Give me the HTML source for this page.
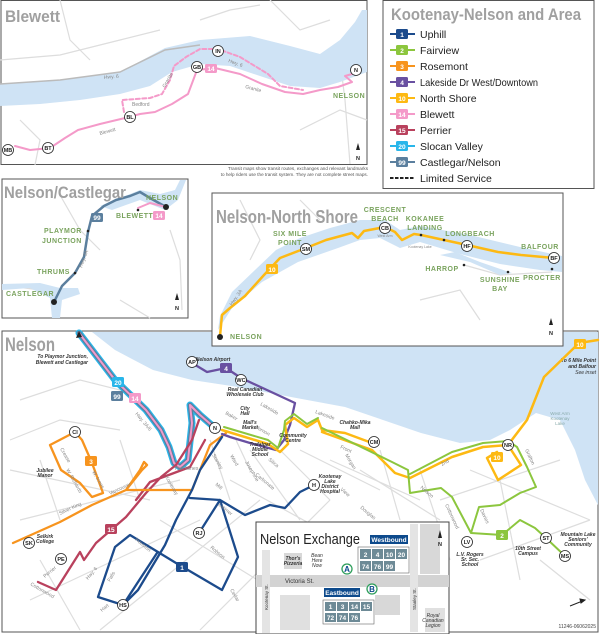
<!DOCTYPE html>
<html><head><meta charset="utf-8"><style>
html,body{margin:0;padding:0;background:#fff}
svg{display:block}
text{font-family:"Liberation Sans",sans-serif}
.t{fill:#a0a0a0;font-weight:bold}
.g{fill:#7aa35e;font-weight:bold;font-size:7px;letter-spacing:.5px}
.s{fill:#888;font-size:5px}
.i{font-style:italic;font-size:5px;fill:#333}
.st{fill:#fff;stroke:#222;stroke-width:.8}
.sl{font-size:5.5px;font-weight:bold;fill:#222;text-anchor:middle}
.bt{font-size:6.5px;fill:#fff;text-anchor:middle;font-weight:bold}
.r{fill:none;stroke-linejoin:round;stroke-linecap:round}
.str{fill:none;stroke:#ddd;stroke-width:1.2}
</style></head><body>
<svg width="600" height="634" viewBox="0 0 600 634">
<!-- ============ BLEWETT ============ -->
<rect x="1" y="0.5" width="366" height="164" fill="#fff" stroke="#555"/>
<g class="str"><path d="M0,60 L60,55 120,40 160,30"/><path d="M200,20 L230,10 260,5"/><path d="M270,0 L300,30 330,20"/><path d="M20,120 L40,140 35,165"/><path d="M300,130 L340,110 367,120"/><path d="M60,0 L70,40 90,60"/><path d="M340,60 L345,100 350,164"/></g>
<path d="M0,84 L60,80 120,72 165,48 200,40 250,36 290,46 320,54 340,40 355,22 362,10 367,10 367,72 340,82 320,88 290,86 260,76 230,66 200,64 172,72 150,86 120,94 80,100 40,104 0,106Z" fill="#cfe3f5"/>
<path d="M0,84 L60,80 120,72 165,50 200,45" fill="none" stroke="#bbb" stroke-width="1.5"/>
<path class="r" d="M15,146 L30,150 50,148 65,138 78,130 100,124 125,118 140,114 155,112 172,104 188,94 194,78 197,70 215,68 240,74 262,84 285,92 303,94 320,90 338,87 352,82 345,76 352,74" stroke="#f49ac9" stroke-width="2"/>
<path class="r" d="M124,112 L122,100 150,98 162,94 170,80 174,66 186,57 200,49 218,49 240,57 268,74 280,86 303,90" stroke="#f49ac9" stroke-width="2" stroke-dasharray="4,2.5"/>
<text x="5" y="22" class="t" font-size="17" textLength="55" lengthAdjust="spacingAndGlyphs">Blewett</text>
<text x="104" y="79" class="s" transform="rotate(-5 104 79)">Hwy. 6</text>
<text x="228" y="62" class="s" transform="rotate(20 228 62)">Hwy. 6</text>
<text x="245" y="88" class="s" transform="rotate(15 245 88)">Granite</text>
<text x="165" y="88" class="s" transform="rotate(-60 165 88)">Granite</text>
<text x="132" y="106" class="s">Bedford</text>
<text x="100" y="135" class="s" transform="rotate(-15 100 135)">Blewett</text>
<text x="333" y="98" class="g">NELSON</text>
<g><circle cx="8" cy="150" r="5.5" class="st"/><text x="8" y="152" class="sl">MB</text>
<circle cx="48" cy="148" r="5.5" class="st"/><text x="48" y="150" class="sl">BT</text>
<circle cx="130" cy="117" r="5.5" class="st"/><text x="130" y="119" class="sl">BL</text>
<circle cx="197" cy="67" r="5.5" class="st"/><text x="197" y="69" class="sl">GB</text>
<circle cx="218" cy="51" r="5.5" class="st"/><text x="218" y="53" class="sl">IN</text>
<circle cx="356" cy="70" r="5.5" class="st"/><text x="356" y="72" class="sl">N</text></g>
<rect x="205" y="64" width="12" height="9" rx="1.5" fill="#f49ac9"/><text x="211" y="71" class="bt">14</text>
<path d="M356,150 l2,-7 2,7z" fill="#222"/><text x="358" y="160" class="sl">N</text>
<text x="368" y="170" font-size="4.6" fill="#555" text-anchor="end">Transit maps show transit routes, exchanges and relevant landmarks</text>
<text x="368" y="176" font-size="4.6" fill="#555" text-anchor="end">to help riders use the transit system. They are not complete street maps.</text>
<!-- ============ LEGEND ============ -->
<rect x="383" y="0.5" width="211" height="188" fill="#fff" stroke="#555"/>
<text x="391" y="20" class="t" font-size="16.5" textLength="190" lengthAdjust="spacingAndGlyphs">Kootenay-Nelson and Area</text>
<g font-size="10.5" fill="#222">
<g><line x1="390" y1="34" x2="415" y2="34" stroke="#1c4b8c" stroke-width="2"/><rect x="396" y="29" width="12" height="10" rx="1.5" fill="#1c4b8c"/><text x="402" y="37" class="bt">1</text><text x="420" y="38">Uphill</text></g>
<g><line x1="390" y1="50" x2="415" y2="50" stroke="#8cc63e" stroke-width="2"/><rect x="396" y="45" width="12" height="10" rx="1.5" fill="#8cc63e"/><text x="402" y="53" class="bt">2</text><text x="420" y="54">Fairview</text></g>
<g><line x1="390" y1="66" x2="415" y2="66" stroke="#f7941e" stroke-width="2"/><rect x="396" y="61" width="12" height="10" rx="1.5" fill="#f7941e"/><text x="402" y="69" class="bt">3</text><text x="420" y="70">Rosemont</text></g>
<g><line x1="390" y1="82" x2="415" y2="82" stroke="#6950a1" stroke-width="2"/><rect x="396" y="77" width="12" height="10" rx="1.5" fill="#6950a1"/><text x="402" y="85" class="bt">4</text><text x="420" y="86" textLength="118" lengthAdjust="spacingAndGlyphs">Lakeside Dr West/Downtown</text></g>
<g><line x1="390" y1="98" x2="415" y2="98" stroke="#fdb913" stroke-width="2"/><rect x="396" y="93" width="12" height="10" rx="1.5" fill="#fdb913"/><text x="402" y="101" class="bt">10</text><text x="420" y="102">North Shore</text></g>
<g><line x1="390" y1="114" x2="415" y2="114" stroke="#f49ac9" stroke-width="2"/><rect x="396" y="109" width="12" height="10" rx="1.5" fill="#f49ac9"/><text x="402" y="117" class="bt">14</text><text x="420" y="118">Blewett</text></g>
<g><line x1="390" y1="130" x2="415" y2="130" stroke="#b9415d" stroke-width="2"/><rect x="396" y="125" width="12" height="10" rx="1.5" fill="#b9415d"/><text x="402" y="133" class="bt">15</text><text x="420" y="134">Perrier</text></g>
<g><line x1="390" y1="146" x2="415" y2="146" stroke="#29b6ea" stroke-width="2"/><rect x="396" y="141" width="12" height="10" rx="1.5" fill="#29b6ea"/><text x="402" y="149" class="bt">20</text><text x="420" y="150">Slocan Valley</text></g>
<g><line x1="390" y1="162" x2="415" y2="162" stroke="#5b7f9e" stroke-width="2"/><rect x="396" y="157" width="12" height="10" rx="1.5" fill="#5b7f9e"/><text x="402" y="165" class="bt">99</text><text x="420" y="166">Castlegar/Nelson</text></g>
<g><line x1="390" y1="178" x2="414" y2="178" stroke="#222" stroke-width="2" stroke-dasharray="3.5,1.5"/><text x="420" y="182">Limited Service</text></g>
</g>
<!-- ============ CASTLEGAR ============ -->
<rect x="2" y="179" width="186" height="139" fill="#fff" stroke="#555"/>
<g class="str"><path d="M60,195 L80,230 100,250"/><path d="M2,285 L40,290 60,300"/><path d="M170,230 L180,260 182,310"/><path d="M120,300 L150,318"/></g>
<path d="M2,290 L30,288 50,298 52,318 60,318 62,300 80,294 78,288 60,288 40,283 2,284Z" fill="#cfe3f5"/>
<path d="M100,206 L120,198 140,190 160,194 175,190 180,180 186,180 178,200 165,210 140,200 112,210Z" fill="#cfe3f5"/>
<path class="r" d="M54,302 L62,286 75,273 84,257 88,232 92,216 104,206 116,200 130,196 140,192 150,198 166,207" stroke="#5b7f9e" stroke-width="2.5"/>
<path class="r" d="M138,208 L150,203 166,207" stroke="#f49ac9" stroke-width="2"/>
<circle cx="54" cy="302" r="3" fill="#222"/><circle cx="166" cy="207" r="3" fill="#222"/>
<circle cx="75" cy="273" r="1.3" fill="#222"/><circle cx="88" cy="231" r="1.3" fill="#222"/><circle cx="138" cy="210" r="1.3" fill="#222"/>
<rect x="91" y="213" width="12" height="9" rx="1.5" fill="#5b7f9e"/><text x="97" y="220" class="bt">99</text>
<rect x="153" y="211" width="12" height="9" rx="1.5" fill="#f49ac9"/><text x="159" y="218" class="bt">14</text>
<text x="4" y="198" class="t" font-size="17" textLength="122" lengthAdjust="spacingAndGlyphs">Nelson/Castlegar</text>
<text x="146" y="200" class="g">NELSON</text><text x="116" y="218" class="g">BLEWETT</text>
<text x="44" y="233" class="g">PLAYMOR</text><text x="42" y="243" class="g">JUNCTION</text>
<text x="37" y="274" class="g">THRUMS</text><text x="6" y="296" class="g">CASTLEGAR</text>
<text x="82" y="268" class="s" transform="rotate(-70 82 268)">Hwy. 3A</text>
<path d="M175,300 l2,-7 2,7z" fill="#222"/><text x="177" y="310" class="sl">N</text>
<!-- ============ MAIN NELSON ============ -->
<rect x="2" y="331" width="596" height="301" fill="#fff" stroke="#555"/>
<path d="M92,332 L115,350 153,370 192,380 238,387 291,397 345,407 383,420 421,433 460,443 490,440 510,430 536,413 560,420 575,450 585,480 598,505 598,332Z" fill="#cfe3f5"/>
<g class="str">
<path d="M20,400 L80,380 140,395"/><path d="M10,440 L60,420 120,430"/><path d="M10,470 L150,500"/><path d="M20,520 L180,480"/><path d="M30,600 L200,520"/><path d="M100,630 L260,500"/><path d="M200,630 L330,500"/><path d="M160,520 L290,600"/><path d="M230,480 L340,540"/><path d="M250,450 L300,520"/><path d="M280,450 L330,500"/><path d="M300,450 L380,490"/><path d="M330,460 L420,500"/><path d="M360,470 L440,520"/><path d="M380,450 L400,520"/><path d="M420,470 L450,560"/><path d="M440,500 L560,460"/><path d="M470,470 L590,520"/><path d="M480,560 L590,520"/><path d="M500,480 L520,580"/><path d="M540,560 L590,600"/><path d="M40,560 L80,630"/><path d="M210,440 L230,500"/><path d="M236,440 L250,470"/><path d="M120,440 L140,500"/><path d="M40,460 L60,520"/>
</g>
<text x="5" y="351" class="t" font-size="19" textLength="50" lengthAdjust="spacingAndGlyphs">Nelson</text>
<text x="88" y="358" class="i" text-anchor="end" font-weight="bold">To Playmor Junction,</text>
<text x="88" y="364" class="i" text-anchor="end" font-weight="bold">Blewett and Castlegar</text>
<text x="596" y="362" class="i" text-anchor="end" font-weight="bold">To 6 Mile Point</text>
<text x="596" y="368" class="i" text-anchor="end" font-weight="bold">and Balfour</text>
<text x="596" y="374" class="i" text-anchor="end">See inset</text>
<text x="560" y="415" font-size="4.5" fill="#8aa" text-anchor="middle">West Arm</text>
<text x="560" y="420" font-size="4.5" fill="#8aa" text-anchor="middle">Kootenay</text>
<text x="560" y="425" font-size="4.5" fill="#8aa" text-anchor="middle">Lake</text>
<!-- 20/99/14 -->
<path class="r" d="M79,333 L115,380 146,410 161,430 169,447 174,463 180,467 188,460 192,423 190,405 200,415 215,428" stroke="#29b6ea" stroke-width="7"/>
<path class="r" d="M79,333 L115,380 146,410 161,430 169,447 174,463 180,467 188,460 192,423 190,405 200,415 215,428" stroke="#5b7f9e" stroke-width="4.5"/>
<path class="r" d="M79,333 L115,380 146,410 161,430 169,447 174,463 180,467 188,460 192,423 190,405 200,415 215,428" stroke="#f49ac9" stroke-width="2"/>
<path d="M79,331 l-3,7 6,-1z" fill="#222"/>
<!-- 15 -->
<path class="r" d="M38,582 L56,590 80,552 84,560 96,543 111,530 126,517 146,493 161,477 176,465 192,440 199,420 M136,500 L150,482 190,467 205,440" stroke="#b9415d" stroke-width="2.3"/>
<!-- 3 -->
<path class="r" d="M13,543 L60,522 92,505 126,490 142,470 147,465 144,462 140,470 126,490 160,490 192,490 200,470 210,445 226,433 M50,445 L75,432 82,440 92,463 103,493 M50,445 L61,470 80,483 92,497 103,493" stroke="#f7941e" stroke-width="2.3"/>
<!-- 1 -->
<path class="r" d="M222,437 L200,470 192,490 176,520 165,545 138,590 123,605 98,597 115,547 130,535 176,563 222,590 238,557 220,500 190,498 M220,500 L245,515 270,505 285,508 300,492 314,485 M199,533 L220,500 M157,553 L123,605" stroke="#1c4b8c" stroke-width="2.3"/>
<!-- 4 -->
<path class="r" d="M192,363 L207,372 226,368 241,378 295,403 290,425 284,440 276,450 250,443 230,437 222,434" stroke="#6950a1" stroke-width="2.3"/>
<!-- 10 & 2 -->
<path class="r" d="M222,430 L268,444 280,452 288,444 285,425 294,418 307,427 318,420 322,430 345,433 372,443 M322,432 L372,450 395,473 410,478 452,457 483,447 508,445 527,420 544,377 579,343 598,340 M508,445 L521,465 498,480 487,458 497,452" stroke="#fdb913" stroke-width="2.5"/>
<path class="r" d="M224,427 L268,440 278,448 284,430 285,421 294,414 307,424 318,418 M322,428 L392,462 408,470 410,493 441,488 452,497 471,533 479,507 500,505 520,493 536,487 527,467 517,447 508,441 483,443 452,452 410,474 M471,533 L502,535 520,520 535,528 546,538 565,556" stroke="#8cc63e" stroke-width="2"/>
<!-- badges -->
<rect x="112" y="377" width="12" height="10" rx="1.5" fill="#29b6ea"/><text x="118" y="385" class="bt">20</text>
<rect x="111" y="391" width="12" height="10" rx="1.5" fill="#5b7f9e"/><text x="117" y="399" class="bt">99</text>
<rect x="129" y="393" width="12" height="10" rx="1.5" fill="#f49ac9"/><text x="135" y="401" class="bt">14</text>
<rect x="220" y="363" width="12" height="10" rx="1.5" fill="#6950a1"/><text x="226" y="371" class="bt">4</text>
<rect x="85" y="456" width="12" height="10" rx="1.5" fill="#f7941e"/><text x="91" y="464" class="bt">3</text>
<rect x="105" y="524" width="12" height="10" rx="1.5" fill="#b9415d"/><text x="111" y="532" class="bt">15</text>
<rect x="176" y="562" width="12" height="10" rx="1.5" fill="#1c4b8c"/><text x="182" y="570" class="bt">1</text>
<rect x="491" y="452" width="12" height="10" rx="1.5" fill="#fdb913"/><text x="497" y="460" class="bt">10</text>
<rect x="574" y="339" width="12" height="10" rx="1.5" fill="#fdb913"/><text x="580" y="347" class="bt">10</text>
<rect x="496" y="530" width="12" height="10" rx="1.5" fill="#8cc63e"/><text x="502" y="538" class="bt">2</text>
<g>
<circle cx="192" cy="362" r="5.5" class="st"/><text x="192" y="364" class="sl">AP</text>
<circle cx="241" cy="380" r="5.5" class="st"/><text x="241" y="382" class="sl">WC</text>
<circle cx="215" cy="428" r="5.5" class="st"/><text x="215" y="430" class="sl">N</text>
<circle cx="75" cy="432" r="5.5" class="st"/><text x="75" y="434" class="sl">CI</text>
<circle cx="29" cy="543" r="5.5" class="st"/><text x="29" y="545" class="sl">SK</text>
<circle cx="61" cy="559" r="5.5" class="st"/><text x="61" y="561" class="sl">PE</text>
<circle cx="123" cy="605" r="5.5" class="st"/><text x="123" y="607" class="sl">HS</text>
<circle cx="199" cy="533" r="5.5" class="st"/><text x="199" y="535" class="sl">RJ</text>
<circle cx="314" cy="485" r="5.5" class="st"/><text x="314" y="487" class="sl">H</text>
<circle cx="374" cy="442" r="5.5" class="st"/><text x="374" y="444" class="sl">CM</text>
<circle cx="508" cy="445" r="5.5" class="st"/><text x="508" y="447" class="sl">NR</text>
<circle cx="467" cy="542" r="5.5" class="st"/><text x="467" y="544" class="sl">LV</text>
<circle cx="546" cy="538" r="5.5" class="st"/><text x="546" y="540" class="sl">ST</text>
<circle cx="565" cy="556" r="5.5" class="st"/><text x="565" y="558" class="sl">MS</text>
</g>
<g class="i" font-weight="bold" text-anchor="middle" font-size="4.5">
<text x="213" y="361">Nelson Airport</text>
<text x="245" y="391">Real Canadian</text><text x="245" y="396">Wholesale Club</text>
<text x="245" y="410">City</text><text x="245" y="415">Hall</text>
<text x="250" y="424">Mall's</text><text x="250" y="429">Market</text>
<text x="260" y="446">Trafalgar</text><text x="260" y="451">Middle</text><text x="260" y="456">School</text>
<text x="293" y="437">Community</text><text x="293" y="442">Centre</text>
<text x="355" y="424">Chahko-Mika</text><text x="355" y="429">Mall</text>
<text x="330" y="478">Kootenay</text><text x="330" y="483">Lake</text><text x="330" y="488">District</text><text x="330" y="493">Hospital</text>
<text x="45" y="472">Jubilee</text><text x="45" y="477">Manor</text>
<text x="45" y="538">Selkirk</text><text x="45" y="543">College</text>
<text x="470" y="556">L.V. Rogers</text><text x="470" y="561">Sr. Sec.</text><text x="470" y="566">School</text>
<text x="528" y="550">10th Street</text><text x="528" y="555">Campus</text>
<text x="578" y="536">Mountain Lake</text><text x="578" y="541">Seniors'</text><text x="578" y="546">Community</text>
</g>
<g class="s" fill="#444">
<text x="135" y="414" transform="rotate(50 135 414)">Hwy. 3A/6</text>
<text x="260" y="405" transform="rotate(30 260 405)">Lakeside</text>
<text x="315" y="413" transform="rotate(20 315 413)">Lakeside</text>
<text x="340" y="448" transform="rotate(25 340 448)">Front</text>
<text x="225" y="414" transform="rotate(30 225 414)">Baker</text>
<text x="255" y="428" transform="rotate(30 255 428)">Vernon</text>
<text x="212" y="455" transform="rotate(60 212 455)">Stanley</text>
<text x="230" y="456" transform="rotate(60 230 456)">Ward</text>
<text x="245" y="462" transform="rotate(60 245 462)">Josephine</text>
<text x="215" y="485" transform="rotate(40 215 485)">Mill</text>
<text x="218" y="505" transform="rotate(40 218 505)">Latimer</text>
<text x="255" y="475" transform="rotate(40 255 475)">Carbonate</text>
<text x="268" y="460" transform="rotate(40 268 460)">Silica</text>
<text x="340" y="490" transform="rotate(40 340 490)">View</text>
<text x="345" y="455" transform="rotate(60 345 455)">Morgan</text>
<text x="360" y="508" transform="rotate(40 360 508)">Douglas</text>
<text x="420" y="488" transform="rotate(40 420 488)">Nelson</text>
<text x="445" y="505" transform="rotate(65 445 505)">Cottonwood</text>
<text x="480" y="510" transform="rotate(65 480 510)">Davies</text>
<text x="442" y="466" transform="rotate(-30 442 466)">2nd</text>
<text x="525" y="450" transform="rotate(65 525 450)">Grafton</text>
<text x="110" y="495" transform="rotate(-25 110 495)">Vancouver</text>
<text x="60" y="515" transform="rotate(-25 60 515)">Silver King</text>
<text x="60" y="449" transform="rotate(60 60 449)">Crease</text>
<text x="66" y="470" transform="rotate(60 66 470)">W. Richards</text>
<text x="92" y="472" transform="rotate(60 92 472)">W. Innes</text>
<text x="88" y="580" transform="rotate(-50 88 580)">Hwy. 6</text>
<text x="45" y="578" transform="rotate(-40 45 578)">Perrier</text>
<text x="30" y="585" transform="rotate(30 30 585)">Cottonwood</text>
<text x="135" y="540" transform="rotate(40 135 540)">Houston</text>
<text x="110" y="582" transform="rotate(-60 110 582)">Falls</text>
<text x="102" y="612" transform="rotate(-40 102 612)">Hart</text>
<text x="165" y="477" transform="rotate(60 165 477)">Kootenay</text>
<text x="175" y="470" transform="rotate(0 175 470)">Hall Mines</text>
<text x="230" y="590" transform="rotate(60 230 590)">Cedar</text>
<text x="210" y="548" transform="rotate(40 210 548)">Robson</text>
</g>
<text x="596" y="628" font-size="5" fill="#444" text-anchor="end">11246-06062025</text>
<path d="M570,606 L585,600 M585,600 l-5,-1 1,4z" stroke="#222" fill="#222"/>
<!-- ============ NELSON EXCHANGE ============ -->
<rect x="256" y="522" width="193" height="112" fill="#fff" stroke="#444"/>
<rect x="256" y="575" width="193" height="12" fill="#d3d3d3"/>
<rect x="262" y="550" width="8" height="83" fill="#e4e4e4"/>
<rect x="410" y="524" width="8" height="108" fill="#e4e4e4"/>
<rect x="420" y="524" width="20" height="50" fill="#d8d8d8"/>
<rect x="284" y="553" width="18" height="16" fill="#d8d8d8"/>
<rect x="280" y="595" width="30" height="35" fill="#e0e0e0"/>
<rect x="375" y="595" width="25" height="20" fill="#d8d8d8"/>
<rect x="425" y="608" width="20" height="24" fill="#e0e0e0"/>
<text x="260" y="544" font-size="15" fill="#222" textLength="100" lengthAdjust="spacingAndGlyphs">Nelson Exchange</text>
<text x="285" y="583" font-size="6" fill="#333">Victoria St.</text>
<text x="293" y="560" class="i" text-anchor="middle" font-weight="bold">Thor's</text><text x="293" y="565" class="i" text-anchor="middle" font-weight="bold">Pizzeria</text>
<text x="317" y="557" class="i" text-anchor="middle">Bean</text><text x="317" y="562" class="i" text-anchor="middle">Here</text><text x="317" y="567" class="i" text-anchor="middle">Now</text>
<text x="433" y="617" class="i" text-anchor="middle">Royal</text><text x="433" y="622" class="i" text-anchor="middle">Canadian</text><text x="433" y="627" class="i" text-anchor="middle">Legion</text>
<text x="268" y="610" font-size="4.5" fill="#333" transform="rotate(-90 268 610)">Kootenay St.</text>
<text x="416" y="610" font-size="4.5" fill="#333" transform="rotate(-90 416 610)">Stanley St.</text>
<path d="M438,538 l2,-8 2,8z" fill="#222"/><text x="440" y="546" class="sl">N</text>
<rect x="370" y="535" width="38" height="9" fill="#0d4a8c"/><text x="389" y="542" font-size="6.5" fill="#fff" text-anchor="middle" font-weight="bold">Westbound</text>
<rect x="358" y="547" width="51" height="26" fill="#fff" stroke="#666" stroke-width=".6"/>
<g fill="#6d8a96"><rect x="360" y="549" width="11" height="10"/><rect x="372" y="549" width="11" height="10"/><rect x="384" y="549" width="11" height="10"/><rect x="396" y="549" width="11" height="10"/><rect x="360" y="561" width="11" height="10"/><rect x="372" y="561" width="11" height="10"/><rect x="384" y="561" width="11" height="10"/></g>
<g class="bt" font-size="7"><text x="365.5" y="557">2</text><text x="377.5" y="557">4</text><text x="389.5" y="557">10</text><text x="401.5" y="557">20</text><text x="365.5" y="569">74</text><text x="377.5" y="569">76</text><text x="389.5" y="569">99</text></g>
<circle cx="347" cy="569" r="5" fill="#fff" stroke="#2e9e5b" stroke-width="1.3"/><text x="347" y="572" font-size="8" font-weight="bold" text-anchor="middle" fill="#0d4a8c">A</text>
<rect x="324" y="588" width="36" height="9" fill="#0d4a8c"/><text x="342" y="595" font-size="6.5" fill="#fff" text-anchor="middle" font-weight="bold">Eastbound</text>
<circle cx="372" cy="589" r="5" fill="#fff" stroke="#2e9e5b" stroke-width="1.3"/><text x="372" y="592" font-size="8" font-weight="bold" text-anchor="middle" fill="#0d4a8c">B</text>
<rect x="323" y="600" width="51" height="24" fill="#fff" stroke="#666" stroke-width=".6"/>
<g fill="#6d8a96"><rect x="325" y="602" width="11" height="9"/><rect x="337" y="602" width="11" height="9"/><rect x="349" y="602" width="11" height="9"/><rect x="361" y="602" width="11" height="9"/><rect x="325" y="613" width="11" height="9"/><rect x="337" y="613" width="11" height="9"/><rect x="349" y="613" width="11" height="9"/></g>
<g class="bt" font-size="7"><text x="330.5" y="609">1</text><text x="342.5" y="609">3</text><text x="354.5" y="609">14</text><text x="366.5" y="609">15</text><text x="330.5" y="620">72</text><text x="342.5" y="620">74</text><text x="354.5" y="620">76</text></g>
<!-- ============ NORTH SHORE ============ -->
<rect x="212" y="193" width="351" height="153" fill="#fff" stroke="#555"/>
<g class="str"><path d="M240,200 L260,240 250,260"/><path d="M300,200 L320,220"/><path d="M420,300 L460,290 480,320"/><path d="M464,265 L500,275 552,272"/></g>
<path d="M218,330 L232,308 262,282 298,262 338,248 360,240 380,238 400,248 420,242 460,254 500,264 540,270 562,272 562,256 520,247 470,235 420,226 400,230 385,220 360,220 330,228 300,238 276,250 255,270 232,292 220,316Z" fill="#cfe3f5"/>
<path d="M440,255 L470,262 500,275 512,273 480,262 455,252Z" fill="#cfe3f5"/>
<path class="r" d="M220,336 L222,315 230,308 245,296 264,275 280,258 306,248 326,240 352,233 358,238 364,231 385,227 395,232 402,240 414,234 421,235 444,240 467,245 498,252 521,255 554,258" stroke="#fdb913" stroke-width="2.5"/>
<circle cx="220" cy="337" r="3" fill="#222"/>
<g fill="#222"><circle cx="421" cy="235" r="1.3"/><circle cx="444" cy="240" r="1.3"/><circle cx="464" cy="265" r="1.3"/><circle cx="508" cy="272" r="1.3"/><circle cx="552" cy="269" r="1.3"/></g>
<rect x="266" y="264" width="12" height="10" rx="1.5" fill="#fdb913"/><text x="272" y="272" class="bt">10</text>
<g><circle cx="306" cy="249" r="5.5" class="st"/><text x="306" y="251" class="sl">SM</text>
<circle cx="385" cy="228" r="5.5" class="st"/><text x="385" y="230" class="sl">CB</text>
<circle cx="467" cy="246" r="5.5" class="st"/><text x="467" y="248" class="sl">HF</text>
<circle cx="554" cy="258" r="5.5" class="st"/><text x="554" y="260" class="sl">BF</text></g>
<text x="216" y="223" class="t" font-size="18" textLength="142" lengthAdjust="spacingAndGlyphs">Nelson-North Shore</text>
<g class="g" text-anchor="middle">
<text x="290" y="236">SIX MILE</text><text x="290" y="245">POINT</text>
<text x="385" y="212">CRESCENT</text><text x="385" y="221">BEACH</text>
<text x="425" y="221">KOKANEE</text><text x="425" y="230">LANDING</text>
<text x="470" y="236">LONGBEACH</text>
<text x="540" y="249">BALFOUR</text>
<text x="442" y="271">HARROP</text>
<text x="500" y="282">SUNSHINE</text><text x="500" y="291">BAY</text>
<text x="542" y="280">PROCTER</text>
</g>
<text x="230" y="339" class="g">NELSON</text>
<text x="385" y="237" font-size="3.5" fill="#888" text-anchor="middle">West Arm</text>
<text x="420" y="248" font-size="3.5" fill="#888" text-anchor="middle">Kootenay Lake</text>
<text x="232" y="306" class="s" transform="rotate(-55 232 306)">Hwy. 3A</text>
<path d="M549,325 l2,-7 2,7z" fill="#222"/><text x="551" y="335" class="sl">N</text>
</svg>
</body></html>
